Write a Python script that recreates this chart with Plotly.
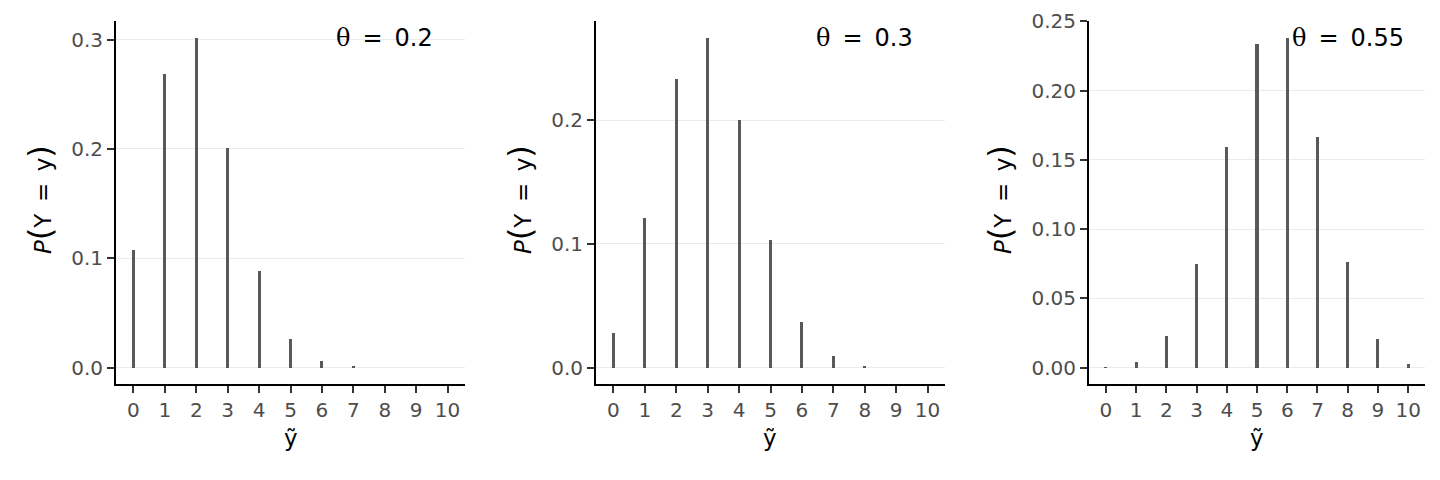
import plotly.graph_objects as go

y_vals = list(range(11))
thetas = ["0.2", "0.3", "0.55"]
p_theta_02 = [0.1074, 0.2684, 0.3020, 0.2013, 0.0881, 0.0264, 0.0055, 0.0008, 0.0000, 0.0000, 0.0000]
p_theta_03 = [0.0282, 0.1211, 0.2335, 0.2668, 0.2001, 0.1029, 0.0368, 0.0090, 0.0014, 0.0000, 0.0000]
p_theta_055 = [0.0003, 0.0042, 0.0229, 0.0746, 0.1596, 0.2340, 0.2384, 0.1665, 0.0763, 0.0207, 0.0025]
series = [p_theta_02, p_theta_03, p_theta_055]
y_ticks = [[0, 0.1, 0.2, 0.3], [0, 0.1, 0.2], [0, 0.05, 0.10, 0.15, 0.20, 0.25]]
y_ticktext = [["0.0", "0.1", "0.2", "0.3"], ["0.0", "0.1", "0.2"], ["0.00", "0.05", "0.10", "0.15", "0.20", "0.25"]]

W, H = 1440, 480
OFF = 8  # page body margin offset
x_px = [(116, 465), (596, 945), (1089, 1425)]
ylab_x = [40, 520, 1000]


def px_x(s):
    return (s - OFF) / W


def px_y(s):
    return 1 - (s - OFF) / H


ydom = [px_y(384), px_y(21)]
SANS = "DejaVu Sans"
tickfont = dict(family=SANS, size=20, color="#4D4D4D")

fig = go.Figure()
annotations = []
for i, vals in enumerate(series):
    n = "" if i == 0 else str(i + 1)
    fig.add_trace(go.Bar(x=y_vals, y=vals, width=0.1, marker=dict(color="#595959", line=dict(width=0)),
                         xaxis="x" + n, yaxis="y" + n, showlegend=False, hoverinfo="x+y"))
    mx = max(vals)
    exp = mx * 0.05
    fig.update_layout(**{
        "xaxis" + n: dict(domain=[px_x(x_px[i][0]), px_x(x_px[i][1])], range=[-0.555, 10.555],
                          tickmode="array", tickvals=y_vals, ticktext=[str(v) for v in y_vals],
                          showline=True, linecolor="black", linewidth=2, ticks="outside", ticklen=7,
                          tickwidth=2, tickcolor="#333333", showgrid=False, zeroline=False,
                          tickfont=tickfont, anchor="y" + n, fixedrange=True, automargin=False,
                          ticklabeloverflow="allow"),
        "yaxis" + n: dict(domain=ydom, range=[-exp, mx + exp], tickmode="array", tickvals=y_ticks[i],
                          ticktext=y_ticktext[i], showline=True, linecolor="black", linewidth=2,
                          ticks="outside", ticklen=7, tickwidth=2, tickcolor="#333333",
                          showgrid=True, gridcolor="#EBEBEB", gridwidth=1.3, zeroline=False,
                          tickfont=tickfont, anchor="x" + n, fixedrange=True, automargin=False,
                          ticklabeloverflow="allow"),
    })
    annotations.append(dict(x=8, y=mx, xref="x" + n, yref="y" + n, showarrow=False,
                            text="<span style='font-family:DejaVu Serif'>θ</span>\u2002=\u2002" + thetas[i],
                            font=dict(family=SANS, size=24, color="black"),
                            xanchor="center", yanchor="middle"))
    annotations.append(dict(x=px_x((x_px[i][0] + x_px[i][1]) / 2), y=px_y(438), xref="paper", yref="paper",
                            showarrow=False, text="ỹ",
                            font=dict(family=SANS, size=23, color="black"),
                            xanchor="center", yanchor="middle"))
    annotations.append(dict(x=px_x(ylab_x[i]), y=px_y(200), xref="paper", yref="paper", showarrow=False,
                            textangle=-90,
                            text="<i>P</i><span style='font-size:32px'>(</span>Y\u2002=\u2002y<span style='font-size:32px'>)</span>",
                            font=dict(family=SANS, size=23, color="black"),
                            xanchor="center", yanchor="middle"))

fig.update_layout(template="none", width=W, height=H, margin=dict(l=0, r=0, t=0, b=0, autoexpand=False),
                  plot_bgcolor="white", paper_bgcolor="white", annotations=annotations, bargap=0,
                  showlegend=False)
fig.write_html("out.html")
